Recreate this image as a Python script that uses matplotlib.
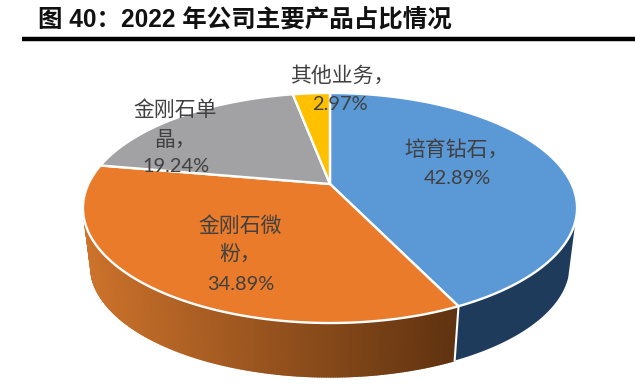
import numpy as np
import matplotlib
matplotlib.use("Agg")
import matplotlib.pyplot as plt
from matplotlib.patches import Polygon

title = "图 40：2022 年公司主要产品占比情况"
names = ["培育钻石", "金刚石微粉", "金刚石单晶", "其他业务"]
values = [42.89, 34.89, 19.24, 2.97]
colors = ["#5A98D6", "#E97B2B", "#A2A2A4", "#FFC000"]
label_lines = [["培育钻石，"], ["金刚石微", "粉，"], ["金刚石单", "晶，"], ["其他业务，"]]
pct_text = ["42.89%", "34.89%", "19.24%", "2.97%"]

CJK = ["Noto Sans CJK SC", "DejaVu Sans"]
fig = plt.figure(figsize=(6.35, 3.84), dpi=100, facecolor="white")
ax = fig.add_axes([0, 0, 1, 1])
ax.set_xlim(0, 635)
ax.set_ylim(384, 0)
ax.axis("off")

# perspective projection of the disc
CX, CY, R, B, K = 330.0, 184.0, 241.6, 110.0, 0.2087
DROP, SHRINK = 58.0, 0.97


def rim(theta_deg, lower=False):
    t = np.radians(np.asarray(theta_deg, dtype=float))
    w = 1 + K * np.cos(t)
    x = R * np.sin(t) / w
    y = -B * np.cos(t) / w
    if lower:
        return CX + SHRINK * x, CY + DROP + SHRINK * y
    return CX + x, CY + y


edges = np.concatenate([[0], np.cumsum(values)]) / sum(values) * 360.0

# blue wall: one flat piece
ts = np.linspace(108, edges[1], 120)
x1, y1 = rim(ts)
x2, y2 = rim(ts, lower=True)
ax.add_patch(Polygon(np.c_[np.r_[x1, x2[::-1]], np.r_[y1, y2[::-1]]], closed=True,
                     fc="#1F3B5C", ec="none", zorder=1))

# orange wall: gradient running with the horizontal position
dark = np.array(matplotlib.colors.to_rgb("#5F3210"))
light = np.array(matplotlib.colors.to_rgb("#CC722B"))
ts = np.linspace(edges[1], 252, 220)
x_seam = rim(edges[1], lower=True)[0]
x_far = rim(252, lower=True)[0]
for i in range(len(ts) - 1):
    x1, y1 = rim(ts[i:i + 2])
    x2, y2 = rim(ts[i:i + 2], lower=True)
    pts = np.c_[np.r_[x1, x2[::-1]], np.r_[y1, y2[::-1]]]
    f = (x_seam - x2.mean()) / (x_seam - x_far)
    c = tuple(dark + (light - dark) * np.clip(f, 0, 1))
    ax.add_patch(Polygon(pts, closed=True, fc=c, ec=c, lw=1.1, zorder=1))

# seam on the side wall
sx1, sy1 = rim(edges[1])
sx2, sy2 = rim(edges[1], lower=True)
ax.plot([sx1, sx2], [sy1, sy2], color="white", lw=1.5, zorder=2)

# top face
for i, c in enumerate(colors):
    ts = np.linspace(edges[i], edges[i + 1], 200)
    x, y = rim(ts)
    pts = np.c_[np.r_[CX, x], np.r_[CY, y]]
    ax.add_patch(Polygon(pts, closed=True, fc=c, ec="white", lw=1.7, joinstyle="round", zorder=3))

# labels: (name centre x, name line ys, percent centre x, percent y)
text_color = "#404040"
centers = [(456, [150], 457, 179), (240, [226, 254], 240.5, 285),
           (175, [110, 140], 176, 167), (342, [76], 340, 104)]
for lines, pct, (xc, ys, xp, yp) in zip(label_lines, pct_text, centers):
    for ln, yy in zip(lines, ys):
        ax.text(xc, yy, ln, family=CJK, fontsize=15, color=text_color,
                ha="center", va="center", zorder=5)
    ax.text(xp, yp, pct, family="Lato", fontsize=14.4, color=text_color, ha="center", va="center", zorder=5)

# header
ax.text(38, 20, title, family=["Liberation Sans", "Noto Sans CJK SC"], fontsize=17.65, fontweight="bold",
        color="#111111", ha="left", va="center", zorder=5)
ax.plot([22, 635], [39, 39], color="black", lw=3.2, solid_capstyle="butt", zorder=5)

fig.savefig("out.png", dpi=100, facecolor="white")
